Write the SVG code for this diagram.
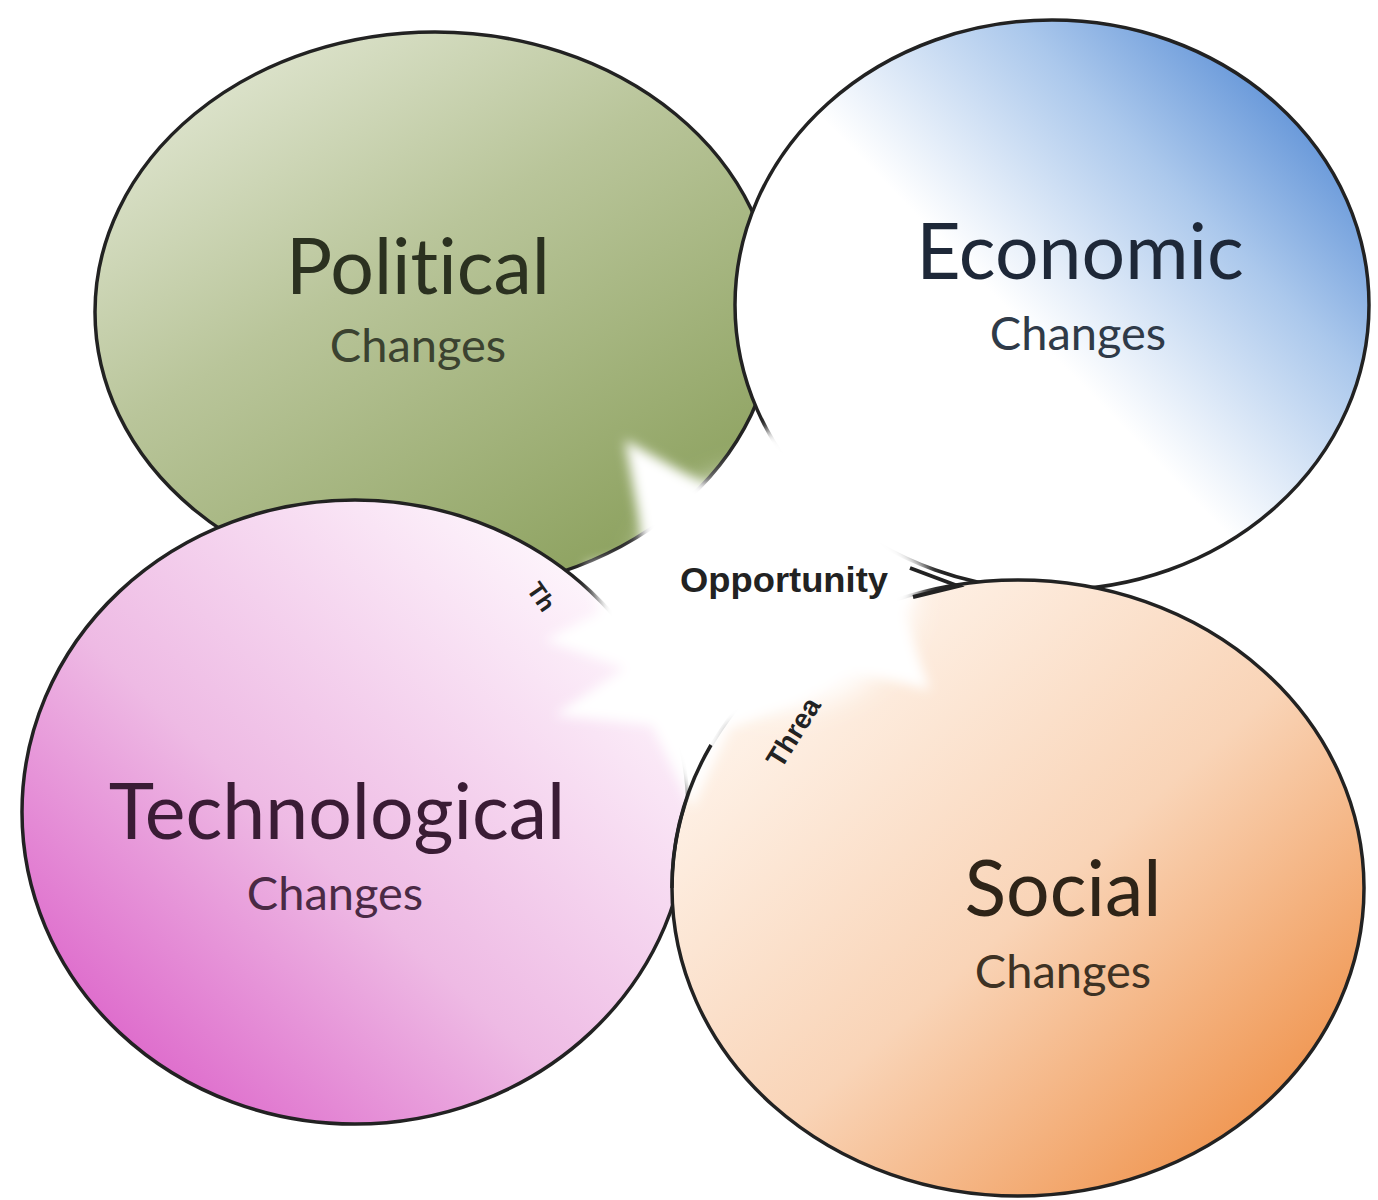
<svg xmlns="http://www.w3.org/2000/svg" width="1378" height="1200" viewBox="0 0 1378 1200">
<style>
.ring{stroke:#222;stroke-width:3.5}
.big{font-family:Lato,"Open Sans",sans-serif;font-size:77px;text-anchor:middle;font-variant-ligatures:none;font-feature-settings:"liga" 0}
.small{font-family:Lato,"Open Sans",sans-serif;font-size:47px;text-anchor:middle}
.lbl{font-family:"Liberation Sans",Arial,sans-serif;font-weight:bold;fill:#222}
</style>
<defs>
<linearGradient id="gPol" x1="0.1" y1="0" x2="0.8" y2="0.95">
<stop offset="0" stop-color="#e6ebd9"/><stop offset="0.45" stop-color="#b9c59a"/><stop offset="1" stop-color="#8ca15e"/>
</linearGradient>
<linearGradient id="gEco" x1="0.15" y1="0.8" x2="0.95" y2="0.1">
<stop offset="0" stop-color="#ffffff"/><stop offset="0.38" stop-color="#ffffff"/><stop offset="0.7" stop-color="#abc8ec"/><stop offset="1" stop-color="#4d85d2"/>
</linearGradient>
<linearGradient id="gTec" x1="0.05" y1="0.85" x2="0.8" y2="0.1">
<stop offset="0" stop-color="#dc62c9"/><stop offset="0.45" stop-color="#eebae4"/><stop offset="1" stop-color="#fdf3fb"/>
</linearGradient>
<linearGradient id="gSoc" x1="0.1" y1="0.1" x2="0.95" y2="0.95">
<stop offset="0" stop-color="#fff7f0"/><stop offset="0.5" stop-color="#f9d4b7"/><stop offset="1" stop-color="#ee883a"/>
</linearGradient>
<filter id="soft" x="-30%" y="-30%" width="160%" height="160%"><feGaussianBlur stdDeviation="6"/></filter>
<filter id="softer" x="-30%" y="-30%" width="160%" height="160%"><feGaussianBlur stdDeviation="14"/></filter>
</defs>
<rect width="1378" height="1200" fill="#ffffff"/>
<g id="political">
<ellipse class="ring" cx="435" cy="312" rx="340" ry="280" fill="url(#gPol)"/>
<text class="big" x="418" y="294" fill="#2b3120">Political</text>
<text class="small" x="418" y="362" fill="#3b4230">Changes</text>
</g>
<g id="economic">
<ellipse class="ring" cx="1052" cy="305" rx="317" ry="285" fill="url(#gEco)"/>
<text class="big" x="1080" y="279" fill="#1e2838">Economic</text>
<text class="small" x="1078" y="350" fill="#2f3a48">Changes</text>
</g>
<g id="technological">
<ellipse class="ring" cx="355" cy="812" rx="333" ry="312" fill="url(#gTec)"/>
<text class="big" x="337" y="839" fill="#3a1c35">Technological</text>
<text class="small" x="335" y="910" fill="#4a2a45">Changes</text>
</g>
<g id="social">
<ellipse class="ring" cx="1018" cy="888" rx="346" ry="308" fill="url(#gSoc)"/>
<text class="big" x="1063" y="916" fill="#2e2418">Social</text>
<text class="small" x="1063" y="988" fill="#3e3224">Changes</text>
</g>
<g id="burst">
<ellipse cx="775" cy="590" rx="140" ry="120" fill="#ffffff" filter="url(#softer)"/>
<polygon filter="url(#soft)" fill="#ffffff" points="625,440 715,490 770,425 830,470 885,455 880,530 928,572 902,612 930,690 845,668 800,700 730,728 692,808 652,725 555,715 625,668 545,640 600,612 585,565 645,552"/>
<path d="M711,745 A346,308 0 0,0 672,888" fill="none" stroke="#222" stroke-width="3.5"/>
</g>
<g id="connectors">
<path d="M910,568 L958,586 L913,597" fill="none" stroke="#222" stroke-width="4"/>
<text class="lbl" x="680" y="592" font-size="35" textLength="208" lengthAdjust="spacingAndGlyphs">Opportunity</text>
<text class="lbl" font-size="28" transform="translate(793,732) rotate(-58)" text-anchor="middle" dy="10">Threa</text>
<text class="lbl" font-size="24" transform="translate(541,597) rotate(55)" text-anchor="middle" dy="8">Th</text>
</g>
</svg>
